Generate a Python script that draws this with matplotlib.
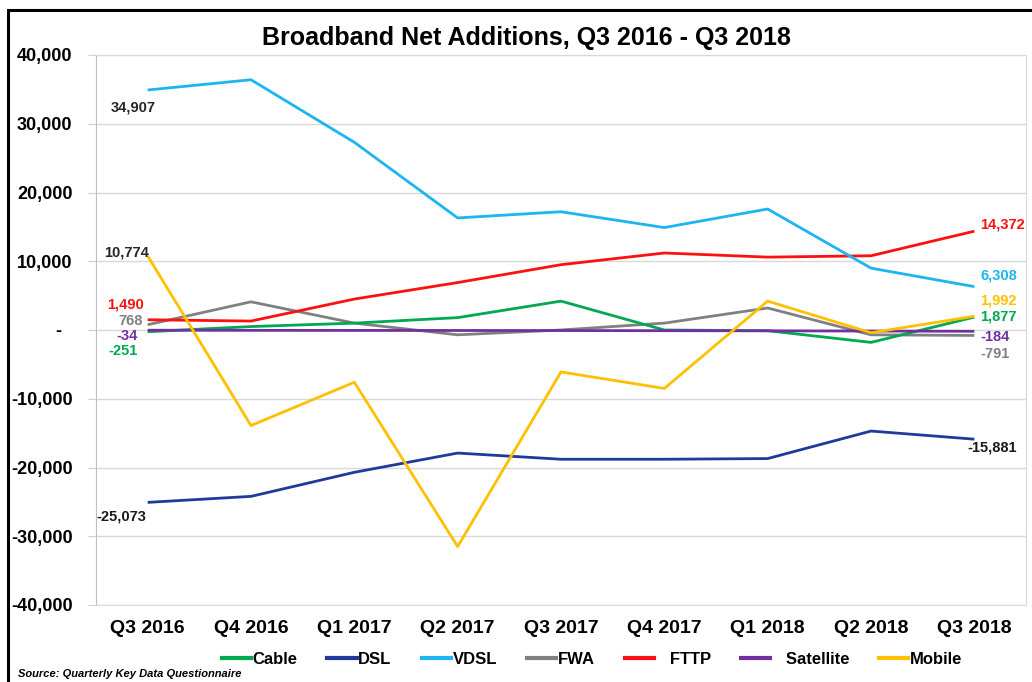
import matplotlib.pyplot as plt
from matplotlib.patches import Rectangle
from matplotlib.lines import Line2D

plt.rcParams['font.family'] = ['Liberation Sans', 'DejaVu Sans']

quarters = ['Q3 2016', 'Q4 2016', 'Q1 2017', 'Q2 2017', 'Q3 2017',
            'Q4 2017', 'Q1 2018', 'Q2 2018', 'Q3 2018']

cable = [-251, 500, 1000, 1800, 4200, 0, -100, -1800, 1877]
dsl = [-25073, -24200, -20700, -17900, -18800, -18800, -18700, -14700, -15881]
vdsl = [34907, 36400, 27300, 16300, 17200, 14900, 17600, 9000, 6308]
fwa = [768, 4100, 1000, -700, 0, 1000, 3200, -700, -791]
fttp = [1490, 1300, 4500, 6900, 9500, 11200, 10600, 10800, 14372]
satellite = [-34, -50, -60, -70, -80, -100, -120, -150, -184]
mobile = [10774, -13900, -7600, -31500, -6100, -8500, 4200, -400, 1992]

series = [('Cable', cable, '#00A850'), ('DSL', dsl, '#1F3A9A'),
          ('VDSL', vdsl, '#1DB4F0'), ('FWA', fwa, '#808080'),
          ('FTTP', fttp, '#FF1010'), ('Satellite', satellite, '#7030A0'),
          ('Mobile', mobile, '#FFC000')]
legend_names = ['Cable', 'DSL', 'VDSL', 'FWA', '   FTTP', '   Satellite', 'Mobile']

yticks = [40000, 30000, 20000, 10000, 0, -10000, -20000, -30000, -40000]
ytick_labels = ['40,000', '30,000', '20,000', '10,000', '-  ', '-10,000',
                '-20,000', '-30,000', '-40,000']

fig = plt.figure(figsize=(10.32, 6.82), dpi=100)
ax = fig.add_axes([96 / 1032, 1 - 605 / 682, 930 / 1032, 550 / 682])

x = list(range(len(quarters)))
for name, vals, col in [series[3], series[0], series[4], series[5], series[2], series[1], series[6]]:
    ax.plot(x, vals, color=col, lw=2.0, solid_capstyle='butt', zorder=3)

ax.set_xlim(-0.5, 8.5)
ax.set_ylim(-40000, 40000)
ax.set_yticks(yticks)
ax.set_yticklabels(ytick_labels, fontsize=13, fontweight='bold')
ax.set_xticks(x)
ax.set_xticklabels(quarters, fontsize=14, fontweight='bold')
ax.tick_params(axis='x', length=0, pad=11)
ax.tick_params(axis='y', length=6, color='#D0D0D0', pad=11)
ax.grid(axis='y', color='#D9D9D9', lw=1)
ax.set_axisbelow(True)
for s in ax.spines.values():
    s.set_color('#D9D9D9')
ax.spines['left'].set_color('#BFBFBF')

fig.text(0.51, 1 - 38 / 682, 'Broadband Net Additions, Q3 2016 - Q3 2018',
         ha='center', va='center', fontsize=18, fontweight='bold')

lab_kw = dict(fontsize=10.5, fontweight='bold', textcoords='offset pixels', va='center')

# labels at the first quarter
ax.annotate('34,907', (0, vdsl[0]), xytext=(-37, -17.5), color='#262626', ha='left', **lab_kw)
ax.annotate('10,774', (0, mobile[0]), xytext=(1, 3), color='#262626', ha='right', **lab_kw)
ax.annotate('1,490', (0, fttp[0]), xytext=(-4, 15), color='#FF1010', ha='right', **lab_kw)
ax.annotate('768', (0, fwa[0]), xytext=(-5, 4), color='#808080', ha='right', **lab_kw)
ax.annotate('-34', (0, satellite[0]), xytext=(-10, -6), color='#7030A0', ha='right', **lab_kw)
ax.annotate('-251', (0, cable[0]), xytext=(-10, -19), color='#00A850', ha='right', **lab_kw)
ax.annotate('-25,073', (0, dsl[0]), xytext=(-51, -14), color='#1A1A1A', ha='left', **lab_kw)

# labels at the last quarter
ax.annotate('14,372', (8, fttp[8]), xytext=(6, 7), color='#FF1010', ha='left', **lab_kw)
ax.annotate('6,308', (8, vdsl[8]), xytext=(6, 11), color='#1DB4F0', ha='left', **lab_kw)
ax.annotate('1,992', (8, mobile[8]), xytext=(6, 16), color='#FFC000', ha='left', **lab_kw)
ax.annotate('1,877', (8, cable[8]), xytext=(6, 1), color='#00A850', ha='left', **lab_kw)
ax.annotate('-184', (8, satellite[8]), xytext=(6, -6), color='#7030A0', ha='left', **lab_kw)
ax.annotate('-791', (8, fwa[8]), xytext=(6, -19), color='#808080', ha='left', **lab_kw)
ax.annotate('-15,881', (8, dsl[8]), xytext=(-7, -8), color='#1A1A1A', ha='left', **lab_kw)

handles = [Line2D([], [], color=c, lw=3) for _, _, c in series]
fig.legend(handles, legend_names, loc='center',
           bbox_to_anchor=(592 / 1032, 1 - 659 / 682), ncol=7, frameon=False,
           prop={'size': 12, 'weight': 'bold'}, handlelength=1.75,
           handletextpad=0.1, columnspacing=1.8)

fig.text(18 / 1032, 1 - 674 / 682, 'Source: Quarterly Key Data Questionnaire',
         fontsize=8, fontweight='bold', style='italic', va='center')

# outer frame
fig.patches.append(Rectangle((8 / 1032, -0.01), 1.1, 1 - 10 / 682 + 0.01,
                             transform=fig.transFigure, fill=False,
                             edgecolor='black', lw=2.2))

fig.savefig('out.png', dpi=100)
